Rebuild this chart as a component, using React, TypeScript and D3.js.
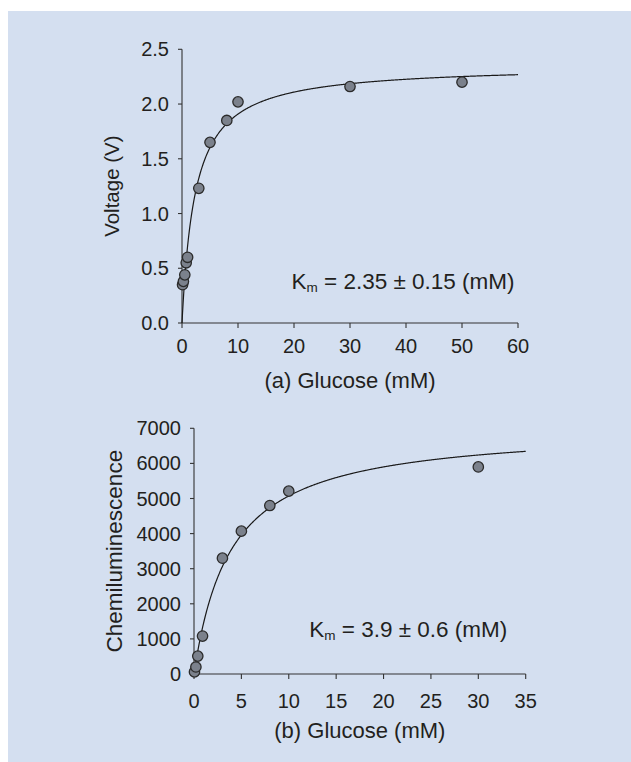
import React from "react";
import * as d3 from "d3";

// ---- Data ----
const glucoseA = [0.1, 0.25, 0.5, 0.75, 1, 3, 5, 8, 10, 30, 50];
const voltageA = [0.35, 0.38, 0.44, 0.55, 0.6, 1.23, 1.65, 1.85, 2.02, 2.16, 2.2];
const fitA = { km: 2.35, vmax: 2.357 };
const xTicksA = [0, 10, 20, 30, 40, 50, 60];
const yTicksA = [0, 0.5, 1.0, 1.5, 2.0, 2.5];

const glucoseB = [0.05, 0.2, 0.4, 0.9, 3, 5, 8, 10, 30];
const chemiB = [60, 200, 510, 1080, 3300, 4070, 4800, 5210, 5900];
const fitB = { km: 3.9, vmax: 7050 };
const xTicksB = [0, 5, 10, 15, 20, 25, 30, 35];
const yTicksB = [0, 1000, 2000, 3000, 4000, 5000, 6000, 7000];

const W = 631;
const H = 762;
const FONT = "Arial, 'Liberation Sans', Helvetica, sans-serif";
const TEXT = "#231f20";
const AXIS = "#333333";

type PanelProps = {
  xs: number[];
  ys: number[];
  fit: { km: number; vmax: number };
  xTicks: number[];
  yTicks: number[];
  xRange: [number, number];
  yRange: [number, number];
  yFmt: (v: number) => string;
  xTitle: string;
  xTitleY: number;
  yTitle: string;
  yTitleX: number;
  yTitleSize: number;
  xTickY: number;
  kmText: string;
  kmX: number;
  kmY: number;
};

function Panel(p: PanelProps) {
  const xMax = p.xTicks[p.xTicks.length - 1];
  const yMax = p.yTicks[p.yTicks.length - 1];
  const x = d3.scaleLinear().domain([0, xMax]).range(p.xRange);
  const y = d3.scaleLinear().domain([0, yMax]).range(p.yRange);
  const fitXs = d3.range(0, xMax + 1e-9, xMax / 600);
  const line = d3
    .line<number>()
    .x((d) => x(d))
    .y((d) => y((p.fit.vmax * d) / (p.fit.km + d)))
    .curve(d3.curveLinear);
  const x0 = p.xRange[0];
  const y0 = p.yRange[0];
  return (
    <g>
      {/* axes */}
      <line x1={x0} x2={p.xRange[1]} y1={y0} y2={y0} stroke={AXIS} strokeWidth={1.1} />
      <line x1={x0} x2={x0} y1={y0} y2={p.yRange[1]} stroke={AXIS} strokeWidth={1.1} />
      {p.xTicks.map((t) => (
        <g key={"xt" + t}>
          <line x1={x(t)} x2={x(t)} y1={y0} y2={y0 + 5} stroke={AXIS} strokeWidth={1.1} />
          <text x={x(t)} y={p.xTickY} textAnchor="middle" fontSize={20} fill={TEXT} fontFamily={FONT}>
            {t}
          </text>
        </g>
      ))}
      {p.yTicks.map((t) => (
        <g key={"yt" + t}>
          <line x1={x0 - 4} x2={x0} y1={y(t)} y2={y(t)} stroke={AXIS} strokeWidth={1.1} />
          <text x={x0 - 13} y={y(t) + 7} textAnchor="end" fontSize={20} fill={TEXT} fontFamily={FONT}>
            {p.yFmt(t)}
          </text>
        </g>
      ))}
      {/* fit curve */}
      <path d={line(fitXs) || ""} fill="none" stroke="#1a1a1a" strokeWidth={1.2} />
      {/* points */}
      {p.xs.map((xv, i) => (
        <circle key={"pt" + i} cx={x(xv)} cy={y(p.ys[i])} r={5.2} fill="#7b818c" stroke="#2b2b2b" strokeWidth={1.3} />
      ))}
      {/* titles */}
      <text x={(p.xRange[0] + p.xRange[1]) / 2} y={p.xTitleY} textAnchor="middle" fontSize={22} fill={TEXT} fontFamily={FONT}>
        {p.xTitle}
      </text>
      <text
        transform={`translate(${p.yTitleX},${(p.yRange[0] + p.yRange[1]) / 2}) rotate(-90)`}
        textAnchor="middle"
        fontSize={p.yTitleSize}
        fill={TEXT}
        fontFamily={FONT}
      >
        {p.yTitle}
      </text>
      <text x={p.kmX} y={p.kmY} fontSize={22.5} fill={TEXT} fontFamily={FONT}>
        K
        <tspan fontSize={13.5} dy={3}>m</tspan>
        <tspan dy={-3}>{p.kmText}</tspan>
      </text>
    </g>
  );
}

export default function App() {
  return (
    <svg width={W} height={H} style={{ position: "absolute", left: 0, top: 0 }}>
      <rect x={0} y={0} width={W} height={H} fill="#ffffff" />
      <rect x={8} y={11} width={W - 8} height={H - 11} fill="#d4dff0" />
      <Panel
        xs={glucoseA}
        ys={voltageA}
        fit={fitA}
        xTicks={xTicksA}
        yTicks={yTicksA}
        xRange={[182, 518]}
        yRange={[323, 49.3]}
        yFmt={(v) => d3.format(".1f")(v)}
        xTitle="(a) Glucose (mM)"
        xTitleY={388}
        yTitle="Voltage (V)"
        yTitleX={119}
        yTitleSize={20.5}
        xTickY={352.5}
        kmText=" = 2.35 ± 0.15 (mM)"
        kmX={291.5}
        kmY={289.3}
      />
      <Panel
        xs={glucoseB}
        ys={chemiB}
        fit={fitB}
        xTicks={xTicksB}
        yTicks={yTicksB}
        xRange={[194, 525.7]}
        yRange={[674, 428.3]}
        yFmt={(v) => String(v)}
        xTitle="(b) Glucose (mM)"
        xTitleY={737.7}
        yTitle="Chemiluminescence"
        yTitleX={121.5}
        yTitleSize={22.5}
        xTickY={708}
        kmText=" = 3.9 ± 0.6 (mM)"
        kmX={309.3}
        kmY={636.7}
      />
    </svg>
  );
}
